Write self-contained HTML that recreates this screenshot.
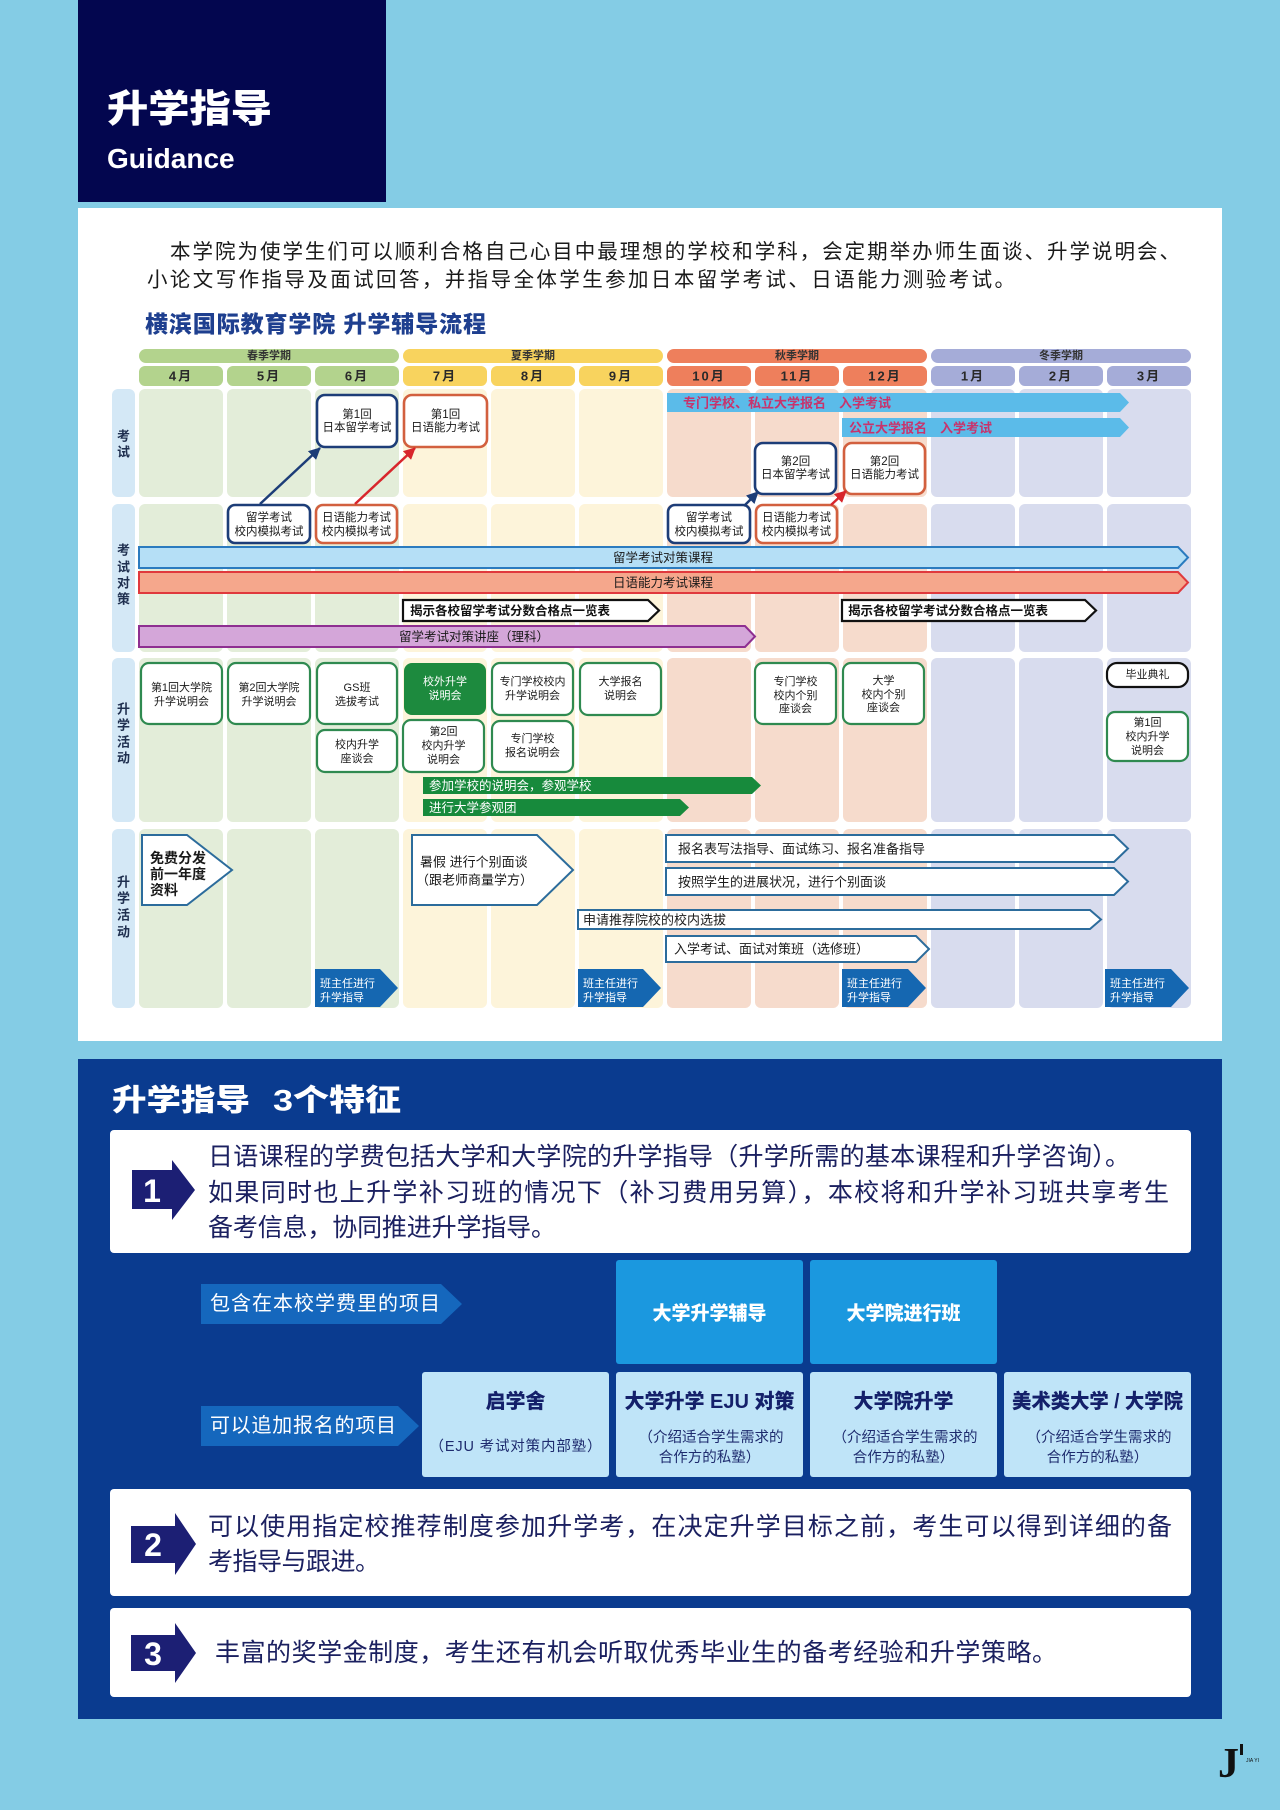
<!DOCTYPE html>
<html lang="zh">
<head>
<meta charset="utf-8">
<style>
  html,body{margin:0;padding:0;background:#84cce5;}
  body{width:1280px;height:1810px;overflow:hidden;}
  svg{display:block;font-family:"Liberation Sans","Noto Sans CJK SC","WenQuanYi Zen Hei",sans-serif;}
  .c{text-anchor:middle;dominant-baseline:central;}
  .l{dominant-baseline:central;}
</style>
</head>
<body>
<svg width="1280" height="1810" viewBox="0 0 1280 1810" xmlns="http://www.w3.org/2000/svg">
  <defs>
    <marker id="mN" markerUnits="userSpaceOnUse" markerWidth="12" markerHeight="12" refX="11" refY="6" orient="auto">
      <path d="M0,0 L12,6 L0,12 z" fill="#1d3d78"/>
    </marker>
    <marker id="mR" markerUnits="userSpaceOnUse" markerWidth="12" markerHeight="12" refX="11" refY="6" orient="auto">
      <path d="M0,0 L12,6 L0,12 z" fill="#d8262c"/>
    </marker>
  </defs>

  <!-- background -->
  <rect x="0" y="0" width="1280" height="1810" fill="#84cce5"/>

  <!-- header -->
  <rect x="78" y="0" width="308" height="202" fill="#03064f"/>
  <text x="107" y="110" class="l" font-size="38" font-weight="900" fill="#fff" textLength="165" lengthAdjust="spacingAndGlyphs">升学指导</text>
  <text x="107" y="168" font-size="28" font-weight="700" fill="#fff" font-family="Liberation Sans, sans-serif">Guidance</text>

  <!-- white panel -->
  <rect x="78" y="208" width="1144" height="833" fill="#ffffff"/>
  <text x="170" y="252" class="l" font-size="20.5" fill="#1a1a1a" textLength="1010" lengthAdjust="spacing">本学院为使学生们可以顺利合格自己心目中最理想的学校和学科，会定期举办师生面谈、升学说明会、</text>
  <text x="147" y="280" class="l" font-size="20.5" fill="#1a1a1a" textLength="868" lengthAdjust="spacing">小论文写作指导及面试回答，并指导全体学生参加日本留学考试、日语能力测验考试。</text>
  <text x="145" y="324" class="l" font-size="23" font-weight="900" fill="#1e3f8f" textLength="341" lengthAdjust="spacing">横滨国际教育学院 升学辅导流程</text>

  <!-- semester bars -->
  <rect x="139" y="349" width="260" height="14" rx="7" fill="#b3d38d"/>
  <rect x="403" y="349" width="260" height="14" rx="7" fill="#f8d35e"/>
  <rect x="667" y="349" width="260" height="14" rx="7" fill="#ee7f5c"/>
  <rect x="931" y="349" width="260" height="14" rx="7" fill="#a5acd8"/>
  <g font-size="11" font-weight="700" fill="#333">
    <text x="269" y="356" class="c">春季学期</text>
    <text x="533" y="356" class="c">夏季学期</text>
    <text x="797" y="356" class="c">秋季学期</text>
    <text x="1061" y="356" class="c">冬季学期</text>
  </g>

  <!-- month pills -->
  <g>
    <rect x="139" y="366" width="84" height="20" rx="6" fill="#b3d38d"/>
    <rect x="227" y="366" width="84" height="20" rx="6" fill="#b3d38d"/>
    <rect x="315" y="366" width="84" height="20" rx="6" fill="#b3d38d"/>
    <rect x="403" y="366" width="84" height="20" rx="6" fill="#f8d35e"/>
    <rect x="491" y="366" width="84" height="20" rx="6" fill="#f8d35e"/>
    <rect x="579" y="366" width="84" height="20" rx="6" fill="#f8d35e"/>
    <rect x="667" y="366" width="84" height="20" rx="6" fill="#ee7f5c"/>
    <rect x="755" y="366" width="84" height="20" rx="6" fill="#ee7f5c"/>
    <rect x="843" y="366" width="84" height="20" rx="6" fill="#ee7f5c"/>
    <rect x="931" y="366" width="84" height="20" rx="6" fill="#a5acd8"/>
    <rect x="1019" y="366" width="84" height="20" rx="6" fill="#a5acd8"/>
    <rect x="1107" y="366" width="84" height="20" rx="6" fill="#a5acd8"/>
  </g>
  <g font-size="13" font-weight="700" fill="#2a2a2a" letter-spacing="2">
    <text x="181" y="376" class="c">4月</text>
    <text x="269" y="376" class="c">5月</text>
    <text x="357" y="376" class="c">6月</text>
    <text x="445" y="376" class="c">7月</text>
    <text x="533" y="376" class="c">8月</text>
    <text x="621" y="376" class="c">9月</text>
    <text x="709" y="376" class="c">10月</text>
    <text x="797" y="376" class="c">11月</text>
    <text x="885" y="376" class="c">12月</text>
    <text x="973" y="376" class="c">1月</text>
    <text x="1061" y="376" class="c">2月</text>
    <text x="1149" y="376" class="c">3月</text>
  </g>

  <!-- row label column -->
  <g fill="#d4e8f6">
    <rect x="112" y="389" width="23" height="108" rx="6"/>
    <rect x="112" y="504" width="23" height="148" rx="6"/>
    <rect x="112" y="658" width="23" height="164" rx="6"/>
    <rect x="112" y="829" width="23" height="179" rx="6"/>
  </g>
  <g font-size="13" font-weight="700" fill="#1f2f4f">
    <text x="123.5" y="436" class="c">考</text>
    <text x="123.5" y="452" class="c">试</text>
    <text x="123.5" y="550" class="c">考</text>
    <text x="123.5" y="567" class="c">试</text>
    <text x="123.5" y="583" class="c">对</text>
    <text x="123.5" y="599" class="c">策</text>
    <text x="123.5" y="709" class="c">升</text>
    <text x="123.5" y="725" class="c">学</text>
    <text x="123.5" y="742" class="c">活</text>
    <text x="123.5" y="758" class="c">动</text>
    <text x="123.5" y="882" class="c">升</text>
    <text x="123.5" y="898" class="c">学</text>
    <text x="123.5" y="915" class="c">活</text>
    <text x="123.5" y="932" class="c">动</text>
  </g>

  <!-- cells: spring -->
  <g fill="#e3edd9">
    <rect x="139" y="389" width="84" height="108" rx="6"/><rect x="227" y="389" width="84" height="108" rx="6"/><rect x="315" y="389" width="84" height="108" rx="6"/>
    <rect x="139" y="504" width="84" height="148" rx="6"/><rect x="227" y="504" width="84" height="148" rx="6"/><rect x="315" y="504" width="84" height="148" rx="6"/>
    <rect x="139" y="658" width="84" height="164" rx="6"/><rect x="227" y="658" width="84" height="164" rx="6"/><rect x="315" y="658" width="84" height="164" rx="6"/>
    <rect x="139" y="829" width="84" height="179" rx="6"/><rect x="227" y="829" width="84" height="179" rx="6"/><rect x="315" y="829" width="84" height="179" rx="6"/>
  </g>
  <!-- summer -->
  <g fill="#fdf4da">
    <rect x="403" y="389" width="84" height="108" rx="6"/><rect x="491" y="389" width="84" height="108" rx="6"/><rect x="579" y="389" width="84" height="108" rx="6"/>
    <rect x="403" y="504" width="84" height="148" rx="6"/><rect x="491" y="504" width="84" height="148" rx="6"/><rect x="579" y="504" width="84" height="148" rx="6"/>
    <rect x="403" y="658" width="84" height="164" rx="6"/><rect x="491" y="658" width="84" height="164" rx="6"/><rect x="579" y="658" width="84" height="164" rx="6"/>
    <rect x="403" y="829" width="84" height="179" rx="6"/><rect x="491" y="829" width="84" height="179" rx="6"/><rect x="579" y="829" width="84" height="179" rx="6"/>
  </g>
  <!-- autumn -->
  <g fill="#f6dbcc">
    <rect x="667" y="389" width="84" height="108" rx="6"/><rect x="755" y="389" width="84" height="108" rx="6"/><rect x="843" y="389" width="84" height="108" rx="6"/>
    <rect x="667" y="504" width="84" height="148" rx="6"/><rect x="755" y="504" width="84" height="148" rx="6"/><rect x="843" y="504" width="84" height="148" rx="6"/>
    <rect x="667" y="658" width="84" height="164" rx="6"/><rect x="755" y="658" width="84" height="164" rx="6"/><rect x="843" y="658" width="84" height="164" rx="6"/>
    <rect x="667" y="829" width="84" height="179" rx="6"/><rect x="755" y="829" width="84" height="179" rx="6"/><rect x="843" y="829" width="84" height="179" rx="6"/>
  </g>
  <!-- winter -->
  <g fill="#d8dcee">
    <rect x="931" y="389" width="84" height="108" rx="6"/><rect x="1019" y="389" width="84" height="108" rx="6"/><rect x="1107" y="389" width="84" height="108" rx="6"/>
    <rect x="931" y="504" width="84" height="148" rx="6"/><rect x="1019" y="504" width="84" height="148" rx="6"/><rect x="1107" y="504" width="84" height="148" rx="6"/>
    <rect x="931" y="658" width="84" height="164" rx="6"/><rect x="1019" y="658" width="84" height="164" rx="6"/><rect x="1107" y="658" width="84" height="164" rx="6"/>
    <rect x="931" y="829" width="84" height="179" rx="6"/><rect x="1019" y="829" width="84" height="179" rx="6"/><rect x="1107" y="829" width="84" height="179" rx="6"/>
  </g>

  <!-- ROW 1 -->
  <path d="M667 393 H1120 L1129 402.5 L1120 412 H667 Z" fill="#5bbbe9"/>
  <path d="M842 418 H1120 L1129 427.5 L1120 437 H842 Z" fill="#5bbbe9"/>
  <g font-size="13" font-weight="700" fill="#c8336c">
    <text x="683" y="403" class="l">专门学校、私立大学报名　入学考试</text>
    <text x="849" y="428" class="l">公立大学报名　入学考试</text>
  </g>

  <g fill="#fff" stroke-width="2.6">
    <rect x="317" y="395" width="80" height="52" rx="8" stroke="#1d3d78"/>
    <rect x="404" y="395" width="83" height="52" rx="8" stroke="#d2603f"/>
    <rect x="755" y="443" width="81" height="51" rx="8" stroke="#1d3d78"/>
    <rect x="844" y="443" width="81" height="51" rx="8" stroke="#d2603f"/>
    <rect x="228" y="505" width="82" height="38" rx="7" stroke="#1d3d78"/>
    <rect x="316" y="505" width="81" height="38" rx="7" stroke="#d2603f"/>
    <rect x="668" y="505" width="82" height="38" rx="7" stroke="#1d3d78"/>
    <rect x="756" y="505" width="81" height="38" rx="7" stroke="#d2603f"/>
  </g>
  <g font-size="11.5" fill="#1a1a1a">
    <text x="357" y="415" class="c">第1回</text>
    <text x="357" y="428" class="c">日本留学考试</text>
    <text x="445.5" y="415" class="c">第1回</text>
    <text x="445.5" y="428" class="c">日语能力考试</text>
    <text x="795.5" y="462" class="c">第2回</text>
    <text x="795.5" y="475" class="c">日本留学考试</text>
    <text x="884.5" y="462" class="c">第2回</text>
    <text x="884.5" y="475" class="c">日语能力考试</text>
    <text x="269" y="518" class="c">留学考试</text>
    <text x="269" y="532" class="c">校内模拟考试</text>
    <text x="356.5" y="518" class="c">日语能力考试</text>
    <text x="356.5" y="532" class="c">校内模拟考试</text>
    <text x="709" y="518" class="c">留学考试</text>
    <text x="709" y="532" class="c">校内模拟考试</text>
    <text x="796.5" y="518" class="c">日语能力考试</text>
    <text x="796.5" y="532" class="c">校内模拟考试</text>
  </g>

  <!-- connector arrows -->
  <line x1="260" y1="504" x2="320" y2="448" stroke="#1d3d78" stroke-width="2.5" marker-end="url(#mN)"/>
  <line x1="355" y1="504" x2="415" y2="448" stroke="#d8262c" stroke-width="2.5" marker-end="url(#mR)"/>
  <line x1="744" y1="506" x2="758" y2="492" stroke="#1d3d78" stroke-width="2.5" marker-end="url(#mN)"/>
  <line x1="831" y1="505" x2="846" y2="491" stroke="#d8262c" stroke-width="2.5" marker-end="url(#mR)"/>

  <!-- ROW 2 bars -->
  <path d="M139 547 H1178 L1188 557.5 L1178 568 H139 Z" fill="#b5dff6" stroke="#2b7bbf" stroke-width="2"/>
  <path d="M139 572 H1178 L1188 582.5 L1178 593 H139 Z" fill="#f5a78c" stroke="#e0393d" stroke-width="2"/>
  <path d="M403 600 H648 L659 610.5 L648 621 H403 Z" fill="#fff" stroke="#111" stroke-width="2.2"/>
  <path d="M842 600 H1085 L1096 610.5 L1085 621 H842 Z" fill="#fff" stroke="#111" stroke-width="2.2"/>
  <path d="M139 626 H745 L755 636.5 L745 647 H139 Z" fill="#d4a6d9" stroke="#8e2f91" stroke-width="2"/>
  <g font-size="12.5" fill="#1a1a1a">
    <text x="663" y="558" class="c">留学考试对策课程</text>
    <text x="663" y="583" class="c">日语能力考试课程</text>
    <text x="474" y="637" class="c">留学考试对策讲座（理科）</text>
  </g>
  <g font-size="12.5" font-weight="700" fill="#111">
    <text x="410" y="611" class="l">揭示各校留学考试分数合格点一览表</text>
    <text x="848" y="611" class="l">揭示各校留学考试分数合格点一览表</text>
  </g>

  <!-- ROW 3 boxes -->
  <g fill="#fff" stroke="#2f8a50" stroke-width="2.2">
    <rect x="141" y="663" width="81" height="61" rx="8"/>
    <rect x="228" y="663" width="82" height="61" rx="8"/>
    <rect x="317" y="663" width="80" height="61" rx="8"/>
    <rect x="317" y="730" width="80" height="42" rx="8"/>
    <rect x="403" y="720" width="81" height="52" rx="8"/>
    <rect x="492" y="663" width="81" height="52" rx="8"/>
    <rect x="492" y="721" width="81" height="51" rx="8"/>
    <rect x="580" y="663" width="81" height="52" rx="8"/>
    <rect x="755" y="663" width="81" height="61" rx="8"/>
    <rect x="843" y="663" width="81" height="61" rx="8"/>
    <rect x="1107" y="712" width="81" height="49" rx="8"/>
  </g>
  <rect x="404" y="663" width="82" height="52" rx="8" fill="#1d8a3e"/>
  <rect x="1107" y="663" width="81" height="24" rx="10" fill="#fff" stroke="#111" stroke-width="2.2"/>
  <g font-size="11" fill="#1a1a1a">
    <text x="181.5" y="688" class="c">第1回大学院</text>
    <text x="181.5" y="702" class="c">升学说明会</text>
    <text x="269" y="688" class="c">第2回大学院</text>
    <text x="269" y="702" class="c">升学说明会</text>
    <text x="357" y="688" class="c">GS班</text>
    <text x="357" y="702" class="c">选拔考试</text>
    <text x="357" y="745" class="c">校内升学</text>
    <text x="357" y="759" class="c">座谈会</text>
    <text x="443.5" y="732" class="c">第2回</text>
    <text x="443.5" y="746" class="c">校内升学</text>
    <text x="443.5" y="760" class="c">说明会</text>
    <text x="532.5" y="682" class="c">专门学校校内</text>
    <text x="532.5" y="696" class="c">升学说明会</text>
    <text x="532.5" y="739" class="c">专门学校</text>
    <text x="532.5" y="753" class="c">报名说明会</text>
    <text x="620.5" y="682" class="c">大学报名</text>
    <text x="620.5" y="696" class="c">说明会</text>
    <text x="795.5" y="682" class="c">专门学校</text>
    <text x="795.5" y="696" class="c">校内个别</text>
    <text x="795.5" y="709" class="c">座谈会</text>
    <text x="883.5" y="681" class="c">大学</text>
    <text x="883.5" y="695" class="c">校内个别</text>
    <text x="883.5" y="708" class="c">座谈会</text>
    <text x="1147.5" y="675" class="c">毕业典礼</text>
    <text x="1147.5" y="723" class="c">第1回</text>
    <text x="1147.5" y="737" class="c">校内升学</text>
    <text x="1147.5" y="751" class="c">说明会</text>
  </g>
  <g font-size="11" fill="#fff">
    <text x="445" y="682" class="c">校外升学</text>
    <text x="445" y="696" class="c">说明会</text>
  </g>
  <path d="M423 777 H752 L761 785.5 L752 794 H423 Z" fill="#178a3c"/>
  <path d="M423 799 H680 L689 807.5 L680 816 H423 Z" fill="#178a3c"/>
  <g font-size="12.5" fill="#fff">
    <text x="429" y="786" class="l">参加学校的说明会，参观学校</text>
    <text x="429" y="808" class="l">进行大学参观团</text>
  </g>

  <!-- ROW 4 -->
  <g fill="#fff" stroke="#2c6c9c" stroke-width="2">
    <path d="M142 835 H187 L232 870 L187 905 H142 Z"/>
    <path d="M412 835 H537 L573 870 L537 905 H412 Z"/>
    <path d="M666 835 H1114 L1128 848.5 L1114 862 H666 Z"/>
    <path d="M666 868 H1114 L1128 881.5 L1114 895 H666 Z"/>
    <path d="M578 910 H1090 L1101 919.5 L1090 929 H578 Z"/>
    <path d="M666 936 H916 L929 949 L916 962 H666 Z"/>
  </g>
  <g font-size="14" font-weight="700" fill="#1a1a1a">
    <text x="150" y="858" class="l">免费分发</text>
    <text x="150" y="874" class="l">前一年度</text>
    <text x="150" y="890" class="l">资料</text>
  </g>
  <g font-size="13" fill="#1a1a1a">
    <text x="420" y="862" class="l">暑假 进行个别面谈</text>
    <text x="416" y="880" class="l">（跟老师商量学方）</text>
    <text x="678" y="849" class="l">报名表写法指导、面试练习、报名准备指导</text>
    <text x="678" y="882" class="l">按照学生的进展状况，进行个别面谈</text>
    <text x="583" y="920" class="l">申请推荐院校的校内选拔</text>
    <text x="674" y="949" class="l">入学考试、面试对策班（选修班）</text>
  </g>
  <g fill="#1567b1">
    <path d="M315 969 H380 L398 988 L380 1007 H315 Z"/>
    <path d="M578 969 H643 L661 988 L643 1007 H578 Z"/>
    <path d="M842 969 H908 L926 988 L908 1007 H842 Z"/>
    <path d="M1105 969 H1171 L1189 988 L1171 1007 H1105 Z"/>
  </g>
  <g font-size="11" fill="#fff">
    <text x="320" y="984" class="l">班主任进行</text>
    <text x="320" y="998" class="l">升学指导</text>
    <text x="583" y="984" class="l">班主任进行</text>
    <text x="583" y="998" class="l">升学指导</text>
    <text x="847" y="984" class="l">班主任进行</text>
    <text x="847" y="998" class="l">升学指导</text>
    <text x="1110" y="984" class="l">班主任进行</text>
    <text x="1110" y="998" class="l">升学指导</text>
  </g>

  <!-- BOTTOM PANEL -->
  <rect x="78" y="1059" width="1144" height="660" fill="#0a3b8f"/>
  <text x="112" y="1101" class="l" font-size="30" font-weight="900" fill="#fff" textLength="138" lengthAdjust="spacingAndGlyphs">升学指导</text>
  <text x="273" y="1101" class="l" font-size="30" font-weight="900" fill="#fff" textLength="128" lengthAdjust="spacingAndGlyphs">3个特征</text>

  <!-- box 1 -->
  <rect x="110" y="1130" width="1081" height="123" rx="4" fill="#fff"/>
  <path d="M132 1170 H172 V1160 L195 1190 L172 1220 V1209 H132 Z" fill="#1c1f74"/>
  <text x="152" y="1191" class="c" font-size="32" font-weight="700" fill="#fff">1</text>
  <g font-size="25" fill="#1b2060">
    <text x="208" y="1157" class="l" textLength="922" lengthAdjust="spacing">日语课程的学费包括大学和大学院的升学指导（升学所需的基本课程和升学咨询）。</text>
    <text x="208" y="1193" class="l" textLength="961" lengthAdjust="spacing">如果同时也上升学补习班的情况下（补习费用另算），本校将和升学补习班共享考生</text>
    <text x="208" y="1228" class="l" textLength="348" lengthAdjust="spacing">备考信息，协同推进升学指导。</text>
  </g>

  <!-- label arrows -->
  <path d="M201 1284 H441 L462 1304 L441 1324 H201 Z" fill="#1567bd"/>
  <path d="M201 1406 H398 L419 1426 L398 1446 H201 Z" fill="#1567bd"/>
  <g font-size="20" fill="#fff">
    <text x="210" y="1304" class="l" textLength="230" lengthAdjust="spacing">包含在本校学费里的项目</text>
    <text x="210" y="1426" class="l" textLength="186" lengthAdjust="spacing">可以追加报名的项目</text>
  </g>

  <!-- top tier boxes -->
  <rect x="616" y="1260" width="187" height="104" rx="3" fill="#1b98df"/>
  <rect x="810" y="1260" width="187" height="104" rx="3" fill="#1b98df"/>
  <g font-size="19" font-weight="900" fill="#fff">
    <text x="709.5" y="1314" class="c">大学升学辅导</text>
    <text x="903.5" y="1314" class="c">大学院进行班</text>
  </g>

  <!-- bottom tier boxes -->
  <g fill="#bfe4f8">
    <rect x="422" y="1372" width="187" height="105" rx="3"/>
    <rect x="616" y="1372" width="187" height="105" rx="3"/>
    <rect x="810" y="1372" width="187" height="105" rx="3"/>
    <rect x="1004" y="1372" width="187" height="105" rx="3"/>
  </g>
  <g font-size="20" font-weight="900" fill="#14206a">
    <text x="515.5" y="1402" class="c">启学舍</text>
    <text x="709.5" y="1402" class="c" textLength="170" lengthAdjust="spacingAndGlyphs">大学升学 EJU 对策</text>
    <text x="903.5" y="1402" class="c">大学院升学</text>
    <text x="1097.5" y="1402" class="c" textLength="171" lengthAdjust="spacingAndGlyphs">美术类大学 / 大学院</text>
  </g>
  <g font-size="14.5" fill="#1e2b6e">
    <text x="515.5" y="1447" class="c" textLength="172" lengthAdjust="spacing">（EJU 考试对策内部塾）</text>
    <text x="711" y="1438" class="c">（介绍适合学生需求的</text>
    <text x="709.5" y="1458" class="c">合作方的私塾）</text>
    <text x="905" y="1438" class="c">（介绍适合学生需求的</text>
    <text x="903.5" y="1458" class="c">合作方的私塾）</text>
    <text x="1099" y="1438" class="c">（介绍适合学生需求的</text>
    <text x="1097.5" y="1458" class="c">合作方的私塾）</text>
  </g>

  <!-- box 2 -->
  <rect x="110" y="1489" width="1081" height="107" rx="4" fill="#fff"/>
  <path d="M131 1526 H175 V1513 L196 1544 L175 1575 V1563 H131 Z" fill="#1c1f74"/>
  <text x="153" y="1545" class="c" font-size="32" font-weight="700" fill="#fff">2</text>
  <g font-size="25" fill="#1b2060">
    <text x="208" y="1527" class="l" textLength="964" lengthAdjust="spacing">可以使用指定校推荐制度参加升学考，在决定升学目标之前，考生可以得到详细的备</text>
    <text x="208" y="1562" class="l" textLength="172" lengthAdjust="spacing">考指导与跟进。</text>
  </g>

  <!-- box 3 -->
  <rect x="110" y="1608" width="1081" height="89" rx="4" fill="#fff"/>
  <path d="M131 1635 H175 V1623 L196 1653 L175 1683 V1671 H131 Z" fill="#1c1f74"/>
  <text x="153" y="1654" class="c" font-size="32" font-weight="700" fill="#fff">3</text>
  <text x="215" y="1653" class="l" font-size="25" fill="#1b2060" textLength="842" lengthAdjust="spacing">丰富的奖学金制度，考生还有机会听取优秀毕业生的备考经验和升学策略。</text>

  <!-- logo -->
  <text x="1218" y="1777" font-size="42" font-weight="700" fill="#111" font-family="Liberation Serif, serif">J</text>
  <rect x="1240" y="1744" width="3" height="11" fill="#111"/>
  <text x="1246" y="1762" font-size="5" fill="#111" font-family="Liberation Sans, sans-serif">JIA YI</text>
</svg>
</body>
</html>
